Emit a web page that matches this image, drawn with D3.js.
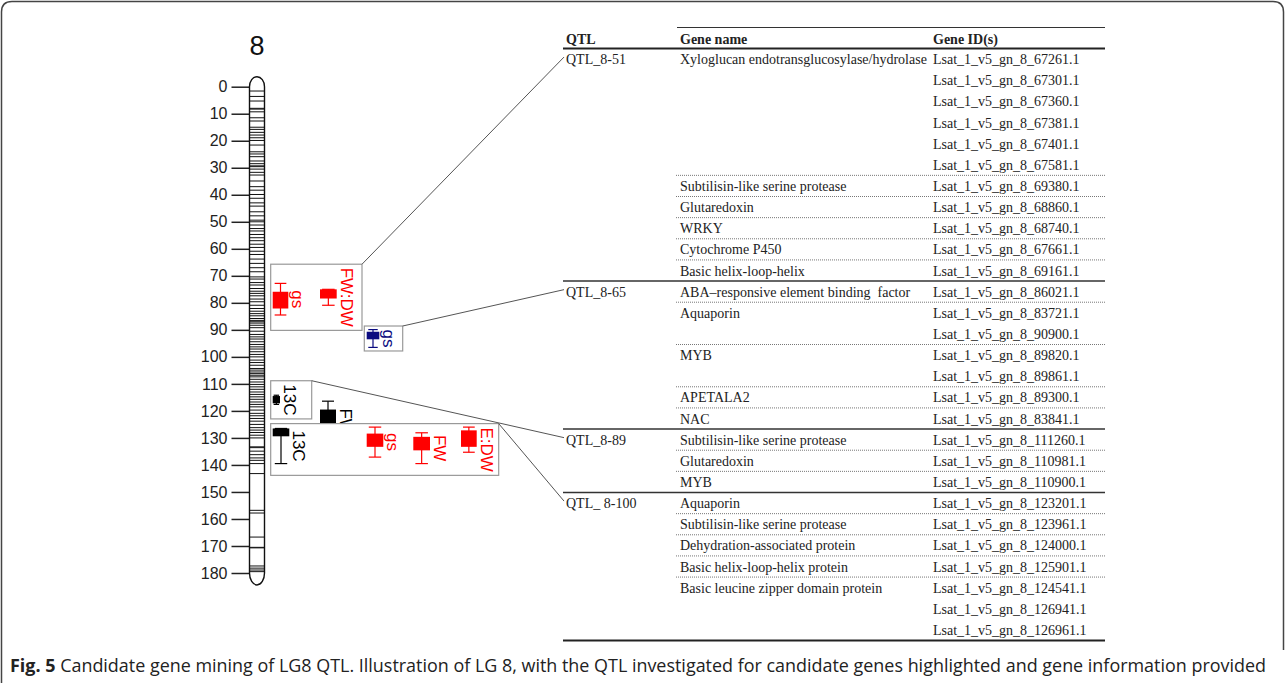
<!DOCTYPE html>
<html>
<head>
<meta charset="utf-8">
<script src="https://cdn.jsdelivr.net/npm/d3@7"></script>
<style>
  body { margin: 0; background: #fff; }
  svg { display: block; }
  .pre { white-space: pre; }
</style>
</head>
<body>
<svg id="fig" width="1285" height="683"></svg>
<script>
// ---- Linkage group 8: map positions (cM) ----
const linkageGroup = "8";
const axisTicks = [0, 10, 20, 30, 40, 50, 60, 70, 80, 90, 100, 110, 120, 130, 140, 150, 160, 170, 180];
const markerPositions = [
  1.6, 3.6, 5.3, 8.0, 8.3, 9.3, 11.5, 12.7, 15.0, 15.8, 16.9, 17.9, 18.9, 19.9, 21.6, 24.1, 24.9, 25.9,
  27.5, 28.5, 29.3, 29.6, 30.5, 31.7, 32.7, 34.9, 37.0, 38.3, 39.9, 41.3, 43.0, 44.2, 46.3, 47.8, 49.4,
  50.0, 51.2, 52.5, 53.4, 54.7, 55.9, 57.0, 58.3, 59.5, 60.9, 62.1, 63.8, 65.4, 67.0, 68.5, 70.4, 71.2,
  72.5, 73.4, 74.7, 75.7, 76.5, 77.4, 78.6, 79.6, 80.9, 82.1, 83.1, 84.0, 84.8, 85.8, 86.5, 87.0, 87.5,
  88.3, 89.2, 90.5, 91.7, 92.6, 93.4, 94.4, 95.4, 96.3, 97.1, 98.1, 99.1, 100.0, 101.2, 102.1, 103.1,
  104.3, 104.9, 105.6, 106.2, 106.8, 107.4, 108.3, 109.3, 110.2, 111.1, 112.0, 113.0, 113.9, 114.8,
  115.7, 116.7, 117.6, 118.5, 119.7, 120.9, 121.8, 122.8, 123.8, 125.0, 126.2, 127.1, 128.0, 129.0,
  130.0, 133.3, 133.6, 134.9, 136.2, 137.4, 138.3, 139.5, 143.2, 156.8, 157.8, 166.7, 170.5, 170.7,
  177.4, 178.2, 178.9, 179.5
];

// ---- QTL: trait, environment set, LOD-1 interval (box), LOD-2 interval (whiskers), cluster ----
const qtlTraits  = ["gs", "FW:DW", "gs", "13C", "FW", "13C", "gs", "FW", "E:DW"];
const qtlSets    = ["E1", "E1", "E2", "E3", "E3", "E3", "E1", "E1", "E1"];
const qtlLod1    = [[75.9, 82.1], [75.0, 78.4], [90.7, 93.5], [114.5, 117.2], [119.5, 128.5],
                    [126.5, 129.4], [128.4, 133.3], [129.6, 134.6], [127.2, 133.3]];
const qtlLod2    = [[72.8, 84.5], [75.0, 80.9], [89.9, 96.5], [114.2, 117.6], [116.4, 131.6],
                    [126.5, 139.5], [126.0, 137.1], [128.1, 139.5], [126.0, 135.3]];
const qtlCluster = [0, 0, 1, 2, -1, 3, 3, 3, 3];

// ---- Candidate genes per QTL ----
const tableQtl = ["QTL_8-51", "QTL_8-65", "QTL_8-89", "QTL_ 8-100"];
const geneGroups = [
  { qtl: 0, name: "Xyloglucan endotransglucosylase/hydrolase",
    ids: ["Lsat_1_v5_gn_8_67261.1", "Lsat_1_v5_gn_8_67301.1", "Lsat_1_v5_gn_8_67360.1",
          "Lsat_1_v5_gn_8_67381.1", "Lsat_1_v5_gn_8_67401.1", "Lsat_1_v5_gn_8_67581.1"] },
  { qtl: 0, name: "Subtilisin-like serine protease", ids: ["Lsat_1_v5_gn_8_69380.1"] },
  { qtl: 0, name: "Glutaredoxin", ids: ["Lsat_1_v5_gn_8_68860.1"] },
  { qtl: 0, name: "WRKY", ids: ["Lsat_1_v5_gn_8_68740.1"] },
  { qtl: 0, name: "Cytochrome P450", ids: ["Lsat_1_v5_gn_8_67661.1"] },
  { qtl: 0, name: "Basic helix-loop-helix", ids: ["Lsat_1_v5_gn_8_69161.1"] },
  { qtl: 1, name: "ABA\u2013responsive element binding  factor", ids: ["Lsat_1_v5_gn_8_86021.1"] },
  { qtl: 1, name: "Aquaporin", ids: ["Lsat_1_v5_gn_8_83721.1", "Lsat_1_v5_gn_8_90900.1"] },
  { qtl: 1, name: "MYB", ids: ["Lsat_1_v5_gn_8_89820.1", "Lsat_1_v5_gn_8_89861.1"] },
  { qtl: 1, name: "APETALA2", ids: ["Lsat_1_v5_gn_8_89300.1"] },
  { qtl: 1, name: "NAC", ids: ["Lsat_1_v5_gn_8_83841.1"] },
  { qtl: 2, name: "Subtilisin-like serine protease", ids: ["Lsat_1_v5_gn_8_111260.1"] },
  { qtl: 2, name: "Glutaredoxin", ids: ["Lsat_1_v5_gn_8_110981.1"] },
  { qtl: 2, name: "MYB", ids: ["Lsat_1_v5_gn_8_110900.1"] },
  { qtl: 3, name: "Aquaporin", ids: ["Lsat_1_v5_gn_8_123201.1"] },
  { qtl: 3, name: "Subtilisin-like serine protease", ids: ["Lsat_1_v5_gn_8_123961.1"] },
  { qtl: 3, name: "Dehydration-associated protein", ids: ["Lsat_1_v5_gn_8_124000.1"] },
  { qtl: 3, name: "Basic helix-loop-helix protein", ids: ["Lsat_1_v5_gn_8_125901.1"] },
  { qtl: 3, name: "Basic leucine zipper domain protein",
    ids: ["Lsat_1_v5_gn_8_124541.1", "Lsat_1_v5_gn_8_126941.1", "Lsat_1_v5_gn_8_126961.1"] }
];
const tableHeader = ["QTL", "Gene name", "Gene ID(s)"];
const captionBold = "Fig. 5";
const captionText = " Candidate gene mining of LG8 QTL. Illustration of LG 8, with the QTL investigated for candidate genes highlighted and gene information provided";

// ---- Layout ----
const svg = d3.select("#fig");
const SANS = "'Liberation Sans', Arial, sans-serif";
const SERIF = "'Liberation Serif', 'Times New Roman', serif";
const setColor = d3.scaleOrdinal().domain(["E1", "E2", "E3"]).range(["#ff0000", "#0a0a80", "#000000"]);

// page frame
svg.append("path")
  .attr("d", "M1.5,683 V12 Q1.5,1.5 12,1.5 H1273 Q1283.5,1.5 1283.5,12 V650")
  .attr("fill", "none").attr("stroke", "#444").attr("stroke-width", 1.5);

// ---- Chromosome ----
const y = d3.scaleLinear().domain([0, 180]).range([86.7, 573]);
const chrL = 249.5, chrR = 264.5;

svg.append("text")
  .attr("x", (chrL + chrR) / 2).attr("y", 55)
  .attr("text-anchor", "middle")
  .attr("font-family", SANS).attr("font-size", 27).attr("fill", "#111")
  .text(linkageGroup);

const axisG = svg.append("g")
  .attr("transform", `translate(${chrL},0)`)
  .call(d3.axisLeft(y).tickValues(axisTicks).tickSize(18).tickPadding(4).tickFormat(d3.format("d")));
axisG.select(".domain").remove();
axisG.selectAll(".tick line").attr("stroke", "#222").attr("stroke-width", 1.5);
axisG.selectAll(".tick text")
  .attr("font-family", SANS).attr("font-size", 16).attr("fill", "#222");

svg.append("path")
  .attr("d", `M${chrL},${y(0)} A7.5,10 0 0 1 ${chrR},${y(0)} V${y(180)} A7.5,12 0 0 1 ${chrL},${y(180)} Z`)
  .attr("fill", "#fff").attr("stroke", "#111").attr("stroke-width", 1.4);

svg.append("g").selectAll("line")
  .data(markerPositions)
  .join("line")
  .attr("x1", chrL).attr("x2", chrR)
  .attr("y1", d => y(d)).attr("y2", d => y(d))
  .attr("stroke", "#111").attr("stroke-width", 1);

// ---- QTL clusters ----
const clusterX = [[270.7, 362], [364.3, 402.7], [270.7, 311.7], [270.7, 498.7]];
const barX = [272.7, 320, 366.7, 272.7, 320, 272.7, 366.7, 413.3, 461];
const barW = [15.6, 16.7, 12.6, 7.3, 16, 16.6, 16.6, 16.7, 15.7];
const labelShift = [0, 0, 0, 0, 0, 0, 0, 0, 10];
const LABEL_SIZE = 17;

const qtls = qtlTraits.map((t, i) => ({
  trait: t, set: qtlSets[i], lod1: qtlLod1[i], lod2: qtlLod2[i], cluster: qtlCluster[i],
  x: barX[i], w: barW[i], shift: labelShift[i]
}));

// draw one QTL bar with its rotated label; returns vertical extent
function drawQtl(g, q) {
  const c = setColor(q.set);
  const cx = q.x + q.w / 2, cap = q.w * 0.75;
  const bg = g.append("g");
  bg.append("line").attr("x1", cx).attr("x2", cx)
    .attr("y1", y(q.lod2[0])).attr("y2", y(q.lod2[1])).attr("stroke", c).attr("stroke-width", 1.2);
  q.lod2.forEach(v => bg.append("line")
    .attr("x1", cx - cap / 2).attr("x2", cx + cap / 2)
    .attr("y1", y(v)).attr("y2", y(v)).attr("stroke", c).attr("stroke-width", 1.2));
  bg.append("rect").attr("x", q.x).attr("width", q.w)
    .attr("y", y(q.lod1[0])).attr("height", y(q.lod1[1]) - y(q.lod1[0]))
    .attr("fill", c);
  const mid = (y(q.lod2[0]) + y(q.lod2[1])) / 2 + q.shift;
  const lx = q.x + q.w + 4;
  const lab = g.append("text")
    .attr("transform", `translate(${lx},${mid}) rotate(90)`)
    .attr("text-anchor", "middle")
    .attr("font-family", SANS).attr("font-size", LABEL_SIZE).attr("fill", c)
    .text(q.trait);
  const len = lab.node().getComputedTextLength();
  return [Math.min(y(q.lod2[0]), mid - len / 2), Math.max(y(q.lod2[1]), mid + len / 2)];
}

const clusterLayers = [0, 1, 2, 3].map(() => null);
const freeLayer = svg.append("g");
// clusters 0..2 first, then unboxed QTL, then cluster 3 on top
[0, 1, 2, "free", 3].forEach(key => {
  if (key === "free") {
    qtls.filter(q => q.cluster === -1).forEach(q => drawQtl(freeLayer, q));
    return;
  }
  const g = svg.append("g");
  const box = g.append("rect");
  const content = g.append("g");
  let top = Infinity, bot = -Infinity;
  qtls.filter(q => q.cluster === key).forEach(q => {
    const [a, b] = drawQtl(content, q);
    top = Math.min(top, a); bot = Math.max(bot, b);
  });
  const pad = 3.5;
  const [x0, x1] = clusterX[key];
  box.attr("x", x0).attr("y", top - pad).attr("width", x1 - x0).attr("height", bot - top + 2 * pad)
    .attr("fill", "#fff").attr("stroke", "#999").attr("stroke-width", 1.2);
  clusterLayers[key] = { x1, top: top - pad };
});

// ---- Table ----
const T = { left: 563, right: 1105, colQ: 566, colName: 680, colId: 933 };
const rows = [];
geneGroups.forEach((gg, gi) => gg.ids.forEach((id, k) => rows.push({
  qtl: gg.qtl, group: gi, first: k === 0, name: k === 0 ? gg.name : "", id
})));
const rowY = d3.scaleLinear().domain([0, rows.length]).range([48.5, 640.5]);
const tg = svg.append("g").attr("font-family", SERIF).attr("font-size", 14).attr("fill", "#222");

// header
tg.append("line").attr("x1", 677).attr("x2", T.right).attr("y1", 27.5).attr("y2", 27.5)
  .attr("stroke", "#333").attr("stroke-width", 1);
[T.colQ, T.colName, T.colId].forEach((x, i) => tg.append("text")
  .attr("x", x).attr("y", 44).attr("font-weight", "bold").text(tableHeader[i]));
tg.append("line").attr("x1", T.left).attr("x2", T.right).attr("y1", rowY(0)).attr("y2", rowY(0))
  .attr("stroke", "#222").attr("stroke-width", 2);

// body text
rows.forEach((r, i) => {
  const cy = (rowY(i) + rowY(i + 1)) / 2 + 5;
  if (r.first && (i === 0 || rows[i - 1].qtl !== r.qtl)) {
    tg.append("text").attr("x", T.colQ).attr("y", cy).attr("class", "pre").text(tableQtl[r.qtl]);
  }
  if (r.name) tg.append("text").attr("x", T.colName).attr("y", cy).attr("class", "pre").text(r.name);
  tg.append("text").attr("x", T.colId).attr("y", cy).text(r.id);
});

// separators: dotted between gene groups, solid between QTL
rows.forEach((r, i) => {
  if (i === 0) return;
  const prev = rows[i - 1];
  const yy = rowY(i);
  if (prev.qtl !== r.qtl) {
    tg.append("line").attr("x1", T.left).attr("x2", T.right).attr("y1", yy).attr("y2", yy)
      .attr("stroke", "#333").attr("stroke-width", 1.4);
  } else if (prev.group !== r.group) {
    tg.append("line").attr("x1", 676).attr("x2", T.right).attr("y1", yy).attr("y2", yy)
      .attr("stroke", "#777").attr("stroke-width", 1).attr("stroke-dasharray", "1,1");
  }
});
tg.append("line").attr("x1", T.left).attr("x2", T.right)
  .attr("y1", rowY(rows.length)).attr("y2", rowY(rows.length))
  .attr("stroke", "#222").attr("stroke-width", 2);

// connectors from each cluster box to its QTL row
tableQtl.forEach((q, qi) => {
  const ri = rows.findIndex(r => r.qtl === qi);
  const c = clusterLayers[qi];
  svg.append("line")
    .attr("x1", c.x1).attr("y1", c.top)
    .attr("x2", T.left + 1).attr("y2", (rowY(ri) + rowY(ri + 1)) / 2 - 2)
    .attr("stroke", "#555").attr("stroke-width", 1);
});

// ---- Caption ----
const cap = svg.append("text")
  .attr("x", 10).attr("y", 672)
  .attr("font-family", "'Liberation Sans Narrow', 'Open Sans', sans-serif")
  .attr("font-size", 18).attr("fill", "#222")
  .attr("textLength", 1256).attr("lengthAdjust", "spacingAndGlyphs");
cap.append("tspan").attr("font-weight", "bold").text(captionBold);
cap.append("tspan").attr("class", "pre").text(captionText);
</script>
</body>
</html>
